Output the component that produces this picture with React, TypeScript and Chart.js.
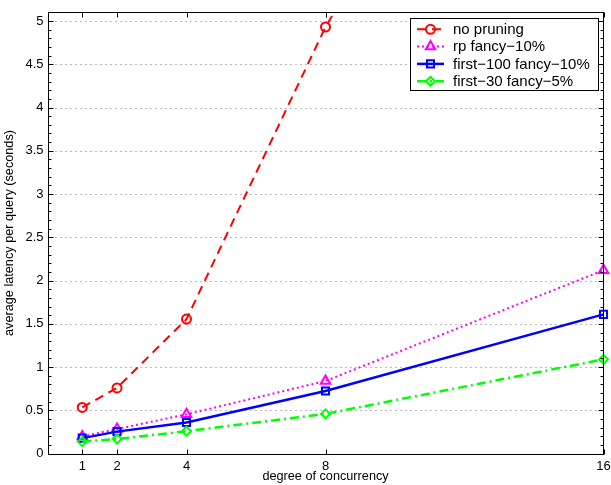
import React, { useEffect, useRef } from 'react';
import { Chart, registerables } from 'chart.js';
import { drawPoint } from 'chart.js/helpers';

Chart.register(...registerables);

// ---- data ----
const xValues = [1, 2, 4, 8, 16];
const xTickValues = [1, 2, 4, 8, 16];
const noPruning = [0.535, 0.76, 1.555, 4.93, 10.4];
const rpFancy10 = [0.2, 0.285, 0.455, 0.84, 2.12];
const first100Fancy10 = [0.18, 0.255, 0.36, 0.725, 1.61];
const first30Fancy5 = [0.14, 0.17, 0.26, 0.46, 1.09];
const seriesLabels = ['no pruning', 'rp fancy\u221210%', 'first\u2212100 fancy\u221210%', 'first\u221230 fancy\u22125%'];
const xTitle = 'degree of concurrency';
const yTitle = 'average latency per query (seconds)';
const yMin = 0;
const yMax = 5.1;
const yStep = 0.5;
const yMinorStep = 0.1;
const xMin = 0;
const xMax = 16;

const FONT = "'Liberation Sans', Arial, Helvetica, sans-serif";

const toPoints = (ys: number[]) => xValues.map((x, i) => ({ x, y: ys[i] }));

const framePlugin = {
  id: 'frame',
  beforeDatasetsDraw(chart: any) {
    const { ctx, chartArea: a, scales } = chart;
    const y = scales.y;
    ctx.save();
    ctx.strokeStyle = '#777';
    ctx.lineWidth = 1;
    ctx.setLineDash([1, 4]);
    y.ticks.forEach((t: any) => {
      const py = Math.round(y.getPixelForValue(t.value)) + 0.5;
      ctx.beginPath();
      ctx.moveTo(a.left + 3, py);
      ctx.lineTo(a.right, py);
      ctx.stroke();
    });
    ctx.restore();
  },
  afterDatasetsDraw(chart: any) {
    const { ctx, chartArea: a, scales } = chart;
    const x = scales.x;
    const y = scales.y;
    ctx.save();
    ctx.setLineDash([]);
    ctx.strokeStyle = '#000';
    ctx.lineWidth = 1;
    const L = Math.round(a.left) + 0.5;
    const R = Math.round(a.right) - 0.5;
    const T = Math.round(a.top) + 0.5;
    const B = Math.round(a.bottom) + 0.5;
    ctx.strokeRect(L, T, R - L, B - T);
    // y ticks (major + minor) on both sides, pointing inwards
    const n = Math.round((yMax - yMin) / yMinorStep);
    const perMajor = Math.round(yStep / yMinorStep);
    for (let i = 0; i <= n; i++) {
      const v = yMin + i * yMinorStep;
      if (v > yMax + 1e-9) break;
      const py = Math.round(y.getPixelForValue(v)) + 0.5;
      const len = i % perMajor === 0 ? 5 : 3;
      ctx.beginPath();
      ctx.moveTo(L, py);
      ctx.lineTo(L + len, py);
      ctx.moveTo(R, py);
      ctx.lineTo(R - len, py);
      ctx.stroke();
    }
    // x ticks top and bottom
    x.ticks.forEach((t: any) => {
      const px = Math.round(x.getPixelForValue(t.value)) + 0.5;
      ctx.beginPath();
      ctx.moveTo(px, B);
      ctx.lineTo(px, B - 5);
      ctx.moveTo(px, T);
      ctx.lineTo(px, T + 5);
      ctx.stroke();
    });

    // legend
    const boxX = a.right - 193.5;
    const boxY = a.top + 6;
    const boxW = 187.7;
    const boxH = 71.7;
    ctx.fillStyle = '#fff';
    ctx.fillRect(boxX, boxY, boxW, boxH);
    ctx.strokeStyle = '#000';
    ctx.lineWidth = 1;
    ctx.strokeRect(Math.round(boxX) + 0.5, Math.round(boxY) + 0.5, Math.round(boxW), Math.round(boxH));
    chart.data.datasets.forEach((ds: any, i: number) => {
      const ry = boxY + 11 + i * 17.3;
      const lx0 = boxX + 7;
      const lx1 = boxX + 34;
      ctx.save();
      ctx.strokeStyle = ds.borderColor;
      ctx.lineWidth = ds.borderWidth;
      ctx.setLineDash(ds.borderDash || []);
      ctx.beginPath();
      ctx.moveTo(lx0, ry);
      ctx.lineTo(lx1, ry);
      ctx.stroke();
      ctx.setLineDash([]);
      ctx.fillStyle = 'rgba(0,0,0,0)';
      ctx.strokeStyle = ds.pointBorderColor;
      ctx.lineWidth = ds.pointBorderWidth;
      drawPoint(ctx, { pointStyle: ds.pointStyle, rotation: 0, radius: ds.pointRadius, borderWidth: ds.pointBorderWidth }, (lx0 + lx1) / 2, ry);
      ctx.restore();
      ctx.fillStyle = '#000';
      ctx.font = `15px ${FONT}`;
      ctx.textBaseline = 'middle';
      ctx.textAlign = 'left';
      ctx.fillText(ds.label, boxX + 43, ry + 0.5);
    });
    ctx.restore();
  },
};

const clip = { left: 12, right: 12, top: 0, bottom: 12 };

export default function App() {
  const ref = useRef<HTMLCanvasElement | null>(null);
  useEffect(() => {
    if (!ref.current) return;
    const chart = new Chart(ref.current, {
      type: 'line',
      data: {
        datasets: [
          {
            label: seriesLabels[0],
            data: toPoints(noPruning),
            borderColor: '#ff0000',
            borderWidth: 2,
            borderDash: [9, 6],
            pointStyle: 'circle',
            pointRadius: 4.5,
            pointBorderWidth: 2,
            pointBorderColor: '#ff0000',
            pointBackgroundColor: 'rgba(0,0,0,0)',
            order: 4,
            clip,
          },
          {
            label: seriesLabels[1],
            data: toPoints(rpFancy10),
            borderColor: '#ff00ff',
            borderWidth: 2,
            borderDash: [2, 3],
            pointStyle: 'triangle',
            pointRadius: 5.5,
            pointBorderWidth: 2,
            pointBorderColor: '#ff00ff',
            pointBackgroundColor: 'rgba(0,0,0,0)',
            order: 3,
            clip,
          },
          {
            label: seriesLabels[2],
            data: toPoints(first100Fancy10),
            borderColor: '#0000ff',
            borderWidth: 2.5,
            borderDash: [],
            pointStyle: 'rect',
            pointRadius: 5,
            pointBorderWidth: 2,
            pointBorderColor: '#0000ff',
            pointBackgroundColor: 'rgba(0,0,0,0)',
            order: 2,
            clip,
          },
          {
            label: seriesLabels[3],
            data: toPoints(first30Fancy5),
            borderColor: '#00ff00',
            borderWidth: 2.5,
            borderDash: [9, 4, 2, 4],
            pointStyle: 'rectRot',
            pointRadius: 4.5,
            pointBorderWidth: 2,
            pointBorderColor: '#00ff00',
            pointBackgroundColor: 'rgba(0,0,0,0)',
            order: 1,
            clip,
          },
        ],
      },
      options: {
        responsive: false,
        animation: false,
        events: [],
        layout: { padding: { top: 12.3, right: 4.3, left: 0, bottom: 0 } },
        plugins: { legend: { display: false }, tooltip: { enabled: false } },
        scales: {
          x: {
            type: 'linear',
            min: xMin,
            max: xMax,
            afterBuildTicks: (s: any) => {
              s.ticks = xTickValues.map((v) => ({ value: v }));
            },
            afterFit: (s: any) => {
              s.height = 31.3;
              s.paddingLeft = 0;
              s.paddingRight = 0;
            },
            grid: { display: false, drawTicks: false },
            border: { display: false },
            ticks: {
              autoSkip: false,
              maxRotation: 0,
              padding: 5,
              color: '#000',
              font: { family: FONT, size: 13 },
              callback: (v: any) => String(v),
            },
            title: {
              display: true,
              text: xTitle,
              color: '#000',
              font: { family: FONT, size: 12.7 },
              padding: { top: 0, bottom: 0.5 },
            },
          },
          y: {
            type: 'linear',
            min: yMin,
            max: yMax,
            afterFit: (s: any) => {
              s.width = 47.5;
              s.paddingTop = 0;
              s.paddingBottom = 0;
            },
            grid: { display: false, drawTicks: false },
            border: { display: false },
            ticks: {
              stepSize: yStep,
              includeBounds: false,
              padding: 4,
              color: '#000',
              font: { family: FONT, size: 13 },
              callback: (v: any) => String(Math.round(Number(v) * 10) / 10),
            },
            title: {
              display: true,
              text: yTitle,
              color: '#000',
              font: { family: FONT, size: 12.7 },
              padding: { top: 2, bottom: 0 },
            },
          },
        },
      },
      plugins: [framePlugin],
    } as any);
    return () => chart.destroy();
  }, []);
  return (
    <div style={{ position: 'absolute', left: 0, top: 0, width: 611, height: 485, background: '#fff' }}>
      <canvas ref={ref} width={611} height={485} />
    </div>
  );
}
